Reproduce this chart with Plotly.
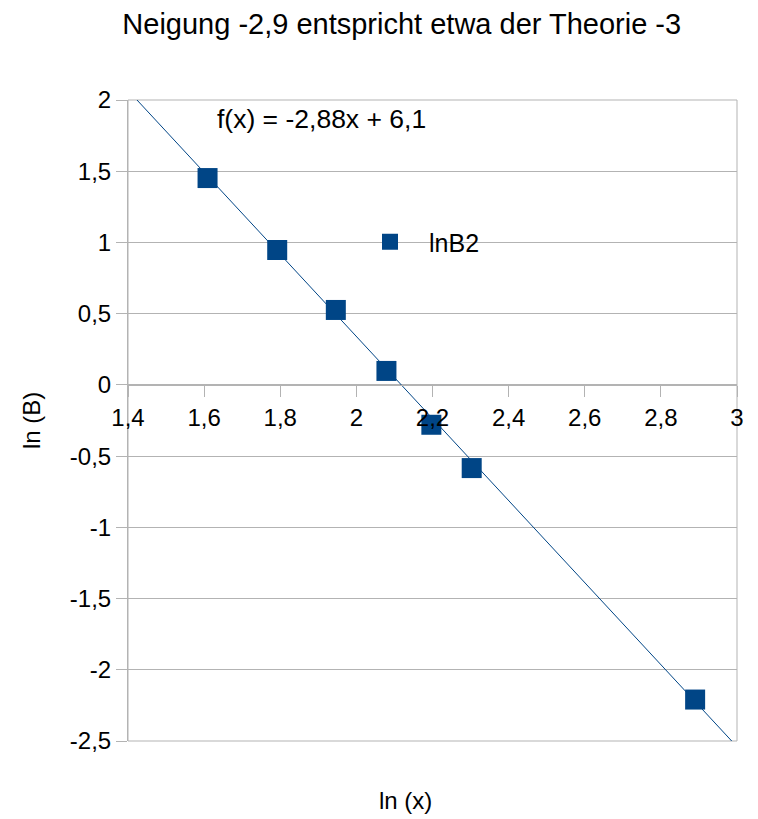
import plotly.graph_objects as go

# data
ln_x = [1.609, 1.792, 1.946, 2.079, 2.197, 2.303, 2.890]
ln_B = [1.452, 0.947, 0.526, 0.098, -0.280, -0.584, -2.209]
series_name = "lnB2"

# linear trendline coefficients (as shown in the chart)
slope = -2.88
intercept = 6.1
trend_x = [1.4, 3.0]

x_ticks = [1.4, 1.6, 1.8, 2.0, 2.2, 2.4, 2.6, 2.8, 3.0]
x_ticktext = ["1,4", "1,6", "1,8", "2", "2,2", "2,4", "2,6", "2,8", "3"]
y_ticks = [2, 1.5, 1, 0.5, 0, -0.5, -1, -1.5, -2, -2.5]
y_ticktext = ["2", "1,5", "1", "0,5", "0", "-0,5", "-1", "-1,5", "-2", "-2,5"]

title_text = "Neigung -2,9 entspricht etwa der Theorie -3"
x_title = "ln (x)"
y_title = "ln (B)"
equation = "f(x) = -2,88x + 6,1"

BLUE = "#004586"
GRID = "#b3b3b3"
FONT = "Liberation Sans, Arial, sans-serif"

W, H = 758, 819
L, R, T, B = 128, 21, 100, 78
x_range = [1.4, 3.0]
y_range = [-2.5, 2.0]
y0_frac = (0 - y_range[0]) / (y_range[1] - y_range[0])

trend_y = [slope * v + intercept for v in trend_x]

fig = go.Figure()
fig.add_trace(go.Scatter(
    x=trend_x, y=trend_y, mode="lines",
    line=dict(color=BLUE, width=1), showlegend=False, hoverinfo="skip",
))
fig.add_trace(go.Scatter(
    x=ln_x, y=ln_B, mode="markers", name=series_name,
    marker=dict(symbol="square", size=20, color=BLUE, line=dict(width=0)),
))

fig.update_layout(
    width=W, height=H,
    margin=dict(l=L, r=R, t=T, b=B),
    paper_bgcolor="white", plot_bgcolor="white",
    font=dict(family=FONT, size=24, color="black"),
    title=dict(text=title_text, x=0.530, xanchor="center", y=1 - 24 / H,
               yanchor="middle", font=dict(size=29, family=FONT)),
    xaxis=dict(
        range=x_range, tickvals=x_ticks, ticktext=x_ticktext,
        showgrid=False, zeroline=False, showline=True, linecolor=GRID,
        linewidth=1, ticks="outside", ticklen=11, tickcolor=GRID,
        anchor="free", position=y0_frac, tickfont=dict(size=24),
    ),
    yaxis=dict(
        range=y_range, tickvals=y_ticks, ticktext=y_ticktext,
        showgrid=True, gridcolor=GRID, gridwidth=1, zeroline=False,
        showline=True, linecolor=GRID, linewidth=1, ticks="outside",
        ticklen=11, tickcolor=GRID, tickfont=dict(size=24),
    ),
    legend=dict(x=(351 - L) / (W - L - R), y=(H - B - 242) / (H - T - B),
                xanchor="left", yanchor="middle", bgcolor="rgba(0,0,0,0)",
                font=dict(size=25), itemwidth=68),
    shapes=[dict(type="rect", xref="paper", yref="paper", x0=0, x1=1, y0=0, y1=1,
                 line=dict(color=GRID, width=1), layer="below")],
    annotations=[
        dict(text=equation, xref="paper", yref="paper",
             x=(321.5 - L) / (W - L - R), y=(H - B - 119) / (H - T - B),
             showarrow=False, xanchor="center", yanchor="middle",
             font=dict(size=26.5)),
        dict(text=x_title, xref="paper", yref="paper",
             x=(405 - L) / (W - L - R), y=(H - B - 800) / (H - T - B),
             showarrow=False, xanchor="center", yanchor="middle",
             font=dict(size=24)),
        dict(text=y_title, xref="paper", yref="paper",
             x=(31 - L) / (W - L - R), y=(H - B - 421) / (H - T - B),
             showarrow=False, xanchor="center", yanchor="middle",
             textangle=-90, font=dict(size=24)),
    ],
)

fig.write_html("out.html")
